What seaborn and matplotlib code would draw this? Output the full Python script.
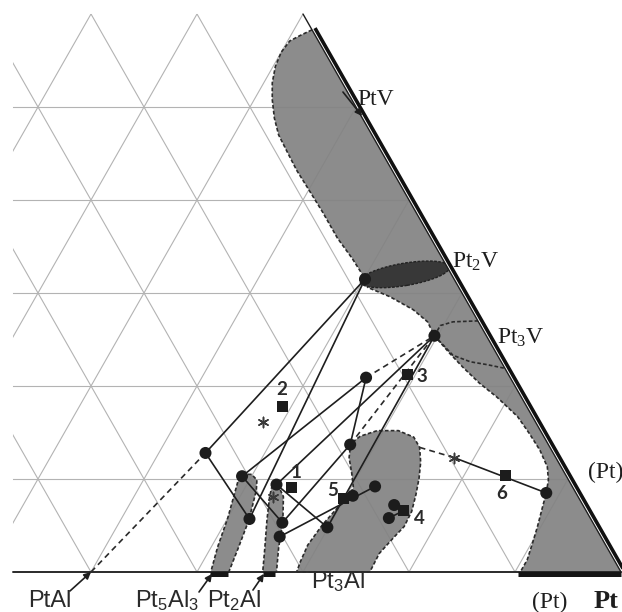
import numpy as np
import pandas as pd
import matplotlib
matplotlib.use("Agg")
import matplotlib.pyplot as plt
from matplotlib.patches import Polygon, Ellipse
from matplotlib.transforms import offset_copy
import seaborn as sns

sns.set_theme(style="white")
plt.rcParams["font.family"] = ["Liberation Sans", "DejaVu Sans"]
plt.rcParams["mathtext.default"] = "regular"

# ---------------------------------------------------------------------------
# Compositions in at.% Pt and at.% V (Al is the balance)
# ---------------------------------------------------------------------------
# measured phase compositions (tie-line / tie-triangle corners)
phase_id = ["V2", "A", "B", "C", "D", "E", "F", "G", "H", "I", "J", "K", "L", "M", "N", "S"]
phase_pt = [60.1, 54.4, 59.1, 62.1, 62.8, 65.4, 65.9, 69.9, 67.6, 65.5, 69.7, 70.6, 72.2, 75.0, 75.2, 88.7]
phase_v = [31.5, 12.8, 10.3, 5.7, 9.4, 5.3, 3.8, 4.8, 13.7, 20.9, 25.4, 8.2, 9.2, 7.2, 5.8, 8.5]

# overall alloy compositions (numbered squares)
alloy_id = ["1", "2", "3", "4", "5", "6"]
alloy_pt = [64.4, 59.2, 69.3, 76.2, 69.9, 83.9]
alloy_v = [9.1, 17.8, 21.2, 6.6, 7.9, 10.4]

# nominal compositions
nominal_id = ["x1", "x2", "x6"]
nominal_pt = [63.1, 58.2, 78.1]
nominal_v = [8.1, 16.1, 12.3]

# other reference compositions used by tie lines
extra_id = ["PtAl", "Pt3Al_edge"]
extra_pt = [50.0, 74.3]
extra_v = [0.0, 13.4]

solid_ties = [("V2", "A"), ("A", "C"), ("V2", "C"), ("B", "I"), ("B", "E"),
              ("I", "H"), ("H", "E"), ("D", "G"), ("D", "J"), ("G", "J"),
              ("F", "L"), ("N", "4"), ("x6", "S")]
dashed_ties = [("PtAl", "A"), ("I", "J"), ("H", "J"), ("x6", "Pt3Al_edge")]

# single-phase fields
field_pt_pt = [41.7, 40.9, 40.2, 40.0, 40.2, 40.8, 41.7, 42.9, 44.2, 45.9, 47.8, 50.0,
               52.5, 55.3, 57.8, 59.6, 60.1, 60.8, 63.4, 66.3, 68.3, 69.7, 72.1, 74.1,
               76.5, 78.9, 81.9, 83.9, 85.8, 87.4, 88.2, 88.7, 89.1, 89.7, 90.1, 90.5, 90.5]
field_pt_v = [58.3, 57.7, 57.1, 55.9, 54.4, 52.6, 50.8, 48.8, 47.0, 45.2, 43.2, 41.1,
              38.7, 35.9, 33.7, 32.0, 31.5, 30.6, 29.6, 28.2, 26.9, 25.4, 23.5, 22.0,
              20.3, 18.8, 16.7, 14.9, 13.1, 11.3, 9.9, 8.5, 7.0, 4.8, 3.1, 1.3, 0.0]

pt3al_pt = [69.4, 76.3, 76.2, 76.7, 77.1, 77.0, 76.5, 75.9, 75.2, 74.3, 73.2, 71.4,
            69.4, 68.1, 67.6, 68.2, 69.3, 70.2, 70.3, 69.8, 69.3, 69.0, 69.2]
pt3al_v = [0.0, 0.0, 2.0, 3.7, 4.9, 6.5, 8.3, 10.1, 11.8, 13.4, 14.5, 15.2,
           15.2, 14.6, 13.8, 12.3, 10.6, 9.1, 8.0, 6.9, 5.1, 2.9, 1.1]

pt5al3_pt = [61.3, 63.0, 62.6, 62.1, 61.2, 60.7, 59.9, 59.2, 59.0, 60.0, 60.6]
pt5al3_v = [0.0, 0.0, 2.6, 5.6, 8.8, 9.9, 10.5, 10.5, 9.7, 5.8, 2.7]

pt2al_pt = [66.2, 67.5, 66.4, 65.4, 64.1, 63.2, 62.5, 62.8, 63.8, 65.1]
pt2al_v = [0.0, 0.0, 2.6, 5.4, 8.1, 9.1, 9.1, 8.1, 5.6, 2.6]

pt3v_upper_pt = [69.7, 69.7, 70.7, 73.0]
pt3v_upper_v = [25.4, 26.5, 26.9, 27.0]
pt3v_lower_pt = [69.7, 72.5, 74.5, 76.2, 78.1]
pt3v_lower_v = [25.4, 23.3, 22.6, 22.3, 21.9]

pt2v_center_pt, pt2v_center_v = 63.6, 32.0


def cart(pt, v):
    """Ternary (Pt, V) -> plane coordinates with Al-Pt along the base."""
    pt = np.asarray(pt, float)
    v = np.asarray(v, float)
    return pt + v / 2.0, v


comp = {}
for ids, pts, vs in ((phase_id, phase_pt, phase_v), (alloy_id, alloy_pt, alloy_v),
                     (nominal_id, nominal_pt, nominal_v), (extra_id, extra_pt, extra_v)):
    for k, p, v in zip(ids, pts, vs):
        comp[k] = cart(p, v)

fig = plt.figure(figsize=(6.22, 6.12), dpi=100)
ax = fig.add_axes([0, 0, 1, 1])
ax.axis("off")

XMIN_VIS = 42.64
VTOP = 60.0
window = Polygon([(XMIN_VIS, 0), (100, 0), (100 - VTOP / 2, VTOP), (XMIN_VIS, VTOP)],
                 closed=True, transform=ax.transData)
triangle = Polygon([(0, 0), (100, 0), (50, 100)], closed=True, transform=ax.transData)

# composition grid every 10 at.%
grid_kw = dict(color="#b3b3b3", lw=0.8, zorder=1)
for k in range(10, 100, 10):
    lines = []
    if k < VTOP:
        lines += ax.plot([0, 100], [k, k], **grid_kw)
    lines += ax.plot([k, k + 50], [0, 100], **grid_kw)
    lines += ax.plot([100 - k, 50 - k], [0, 100], **grid_kw)
    for ln in lines:
        ln.set_clip_path(window)

# phase fields
gray = "#828282"
dash_kw = dict(color="#2b2b2b", lw=1.2, ls=(0, (2.2, 1.3)), zorder=3)

fx, fy = cart(field_pt_pt, field_pt_v)
ax.add_patch(Polygon(np.column_stack([np.r_[fx, 100], np.r_[fy, 0]]), closed=True,
                     facecolor=gray, edgecolor="none", alpha=0.92, zorder=2))
ax.plot(fx, fy, **dash_kw)

for fpt, fv in ((pt3al_pt, pt3al_v), (pt5al3_pt, pt5al3_v), (pt2al_pt, pt2al_v)):
    px, py = cart(fpt, fv)
    ax.add_patch(Polygon(np.column_stack([px, py]), closed=True, facecolor=gray,
                         edgecolor="none", alpha=0.92, zorder=2))
    ax.plot(np.r_[px, px[0]], np.r_[py, py[0]], **dash_kw)

for cpt, cv in ((pt3v_upper_pt, pt3v_upper_v), (pt3v_lower_pt, pt3v_lower_v)):
    ax.plot(*cart(cpt, cv), **dash_kw)

ex, ey = cart(pt2v_center_pt, pt2v_center_v)
ell = Ellipse((ex, ey), width=8.6, height=2.4, angle=11, facecolor="#383838",
              edgecolor="#222222", lw=1.0, ls=(0, (2, 1)), zorder=4)
ax.add_patch(ell)
ell.set_clip_path(triangle)


def segments(ties):
    rows = []
    for i, (a, b) in enumerate(ties):
        for name in (a, b):
            x, y = comp[name]
            rows.append({"seg": i, "x": float(x), "y": float(y)})
    return pd.DataFrame(rows)


sns.lineplot(data=segments(solid_ties), x="x", y="y", units="seg", estimator=None,
             sort=False, color="#1e1e1e", lw=1.2, ax=ax, legend=False, zorder=5)
sns.lineplot(data=segments(dashed_ties), x="x", y="y", units="seg", estimator=None,
             sort=False, color="#2a2a2a", lw=1.2, ax=ax, legend=False, zorder=5,
             dashes=False, linestyle=(0, (3.5, 2.5)))

px, py = cart(phase_pt, phase_v)
sns.scatterplot(x=px, y=py, marker="o", s=75, color="#1c1c1c", edgecolor="none",
                ax=ax, zorder=6, legend=False)
ax_, ay_ = cart(alloy_pt, alloy_v)
sns.scatterplot(x=ax_, y=ay_, marker="s", s=62, color="#1c1c1c", edgecolor="none",
                ax=ax, zorder=6, legend=False)
nx, ny = cart(nominal_pt, nominal_v)
sns.scatterplot(x=nx, y=ny, marker=(6, 2, 0), s=55, color="#3a3a3a", linewidth=1.1,
                ax=ax, zorder=6, legend=False)

# number labels for the alloys
num_pos = {"1": (69.34, 10.75), "2": (68.02, 19.57), "3": (81.23, 20.97),
           "4": (80.94, 5.70), "5": (72.83, 8.71), "6": (88.77, 8.39)}
for k in alloy_id:
    x, y = num_pos[k]
    ax.text(x, y, k, fontsize=13.5, fontweight="bold", family=["Lato", "DejaVu Sans"],
            color="#2a2a2a", ha="center", va="center", zorder=7)

# triangle sides
ax.plot([XMIN_VIS, 100], [0, 0], color="#2a2a2a", lw=1.4, zorder=6)
ax.plot([100 - VTOP / 2, 100], [VTOP, 0], color="#1e1e1e", lw=1.0, zorder=6)
out = offset_copy(ax.transData, fig=fig, x=3.0, y=1.7, units="dots")
ax.plot([41.7 + 58.3 / 2, 100], [58.3, 0], color="#111111", lw=2.6, zorder=6,
        transform=out, solid_capstyle="butt")
down = offset_copy(ax.transData, fig=fig, x=0, y=-1.5, units="dots")
for x0, x1 in ((61.2, 62.9), (66.2, 67.4), (90.3, 100.0)):
    ax.plot([x0, x1], [0, 0], color="#151515", lw=3.6, zorder=6, transform=down,
            solid_capstyle="butt")

# phase names
serif = ["Liberation Serif", "DejaVu Serif"]
sans = ["Liberation Sans", "DejaVu Sans"]
tc = "#1e1e1e"
ax.text(75.09, 50.2, "PtV", fontsize=17, family=serif, color=tc, zorder=7)
ax.text(84.06, 32.69, "Pt$\\mathregular{_2}$V", fontsize=17, family=serif, color=tc, zorder=7)
ax.text(88.30, 24.52, "Pt$\\mathregular{_3}$V", fontsize=17, family=serif, color=tc, zorder=7)
ax.text(96.89, 10.1, "(Pt)", fontsize=17, family=serif, color=tc, zorder=7)
ax.text(91.60, -3.87, "(Pt)", fontsize=17, family=serif, color=tc, zorder=7)
ax.text(97.45, -3.87, "Pt", fontsize=19, family=serif, fontweight="bold", color=tc, zorder=7)
ax.text(44.06, -3.76, "PtAl", fontsize=17, family=sans, color="#2a2a2a", zorder=7)
ax.text(54.15, -3.76, "Pt$\\mathregular{_5}$Al$\\mathregular{_3}$", fontsize=17, family=sans,
        color="#2a2a2a", zorder=7)
ax.text(60.94, -3.76, "Pt$\\mathregular{_2}$Al", fontsize=17, family=sans, color="#2a2a2a", zorder=7)
ax.text(70.75, -1.72, "Pt$\\mathregular{_3}$Al", fontsize=17, family=sans, color="#2a2a2a", zorder=7)

arrow_kw = dict(arrowstyle="-|>", color="#1e1e1e", lw=1.2, mutation_scale=10,
                shrinkA=0, shrinkB=0)
for tail, tip in (((48.02, -2.04), (50.0, 0.0)), ((60.19, -2.15), (61.42, -0.2)),
                  ((65.28, -1.94), (66.32, -0.2)), ((73.77, 51.61), (75.57, 49.03))):
    ax.annotate("", xy=tip, xytext=tail, arrowprops=arrow_kw, zorder=7)

ax.set_xlim(41.415, 100.094)
ax.set_ylim(-4.301, 61.505)
ax.set_xlabel("")
ax.set_ylabel("")
fig.savefig("out.png", dpi=100, facecolor="white")
